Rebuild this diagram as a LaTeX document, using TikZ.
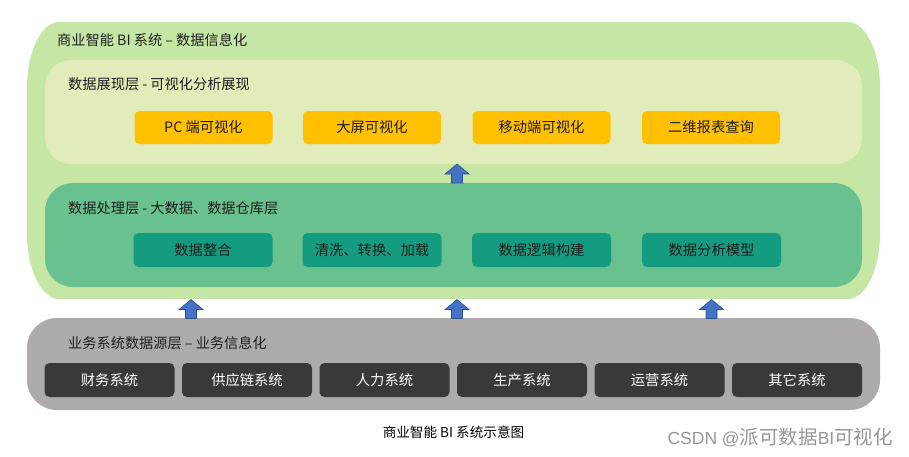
\documentclass[tikz,border=0pt]{standalone}
\usepackage{fontspec}
\setmainfont{Noto Sans CJK SC}
\newfontfamily\wmlatin{Liberation Sans}
\definecolor{outerg}{RGB}{197,230,164}
\definecolor{presg}{RGB}{226,235,186}
\definecolor{procg}{RGB}{104,193,143}
\definecolor{procbox}{RGB}{20,156,128}
\definecolor{ybox}{RGB}{255,192,0}
\definecolor{greyl}{RGB}{174,170,169}
\definecolor{darkb}{RGB}{59,56,56}
\definecolor{arrfill}{RGB}{68,114,196}
\definecolor{arrdraw}{RGB}{47,82,143}
\definecolor{txt}{RGB}{30,30,30}
\definecolor{wm}{RGB}{150,150,150}
\newcommand\blockup[2]{%
  \filldraw[arrfill,draw=arrdraw,line width=0.6pt]
    ({#1-5.5},{#2+19}) -- ({#1+5.5},{#2+19}) -- ({#1+5.5},{#2+10}) -- ({#1+12},{#2+10})
    -- (#1,#2) -- ({#1-12},{#2+10}) -- ({#1-5.5},{#2+10}) -- cycle;}
\tikzset{
  layer/.style={inner sep=0pt, draw=none},
  lbl/.style={anchor=west, inner sep=0pt, font=\fontsize{14.2}{16}\selectfont, text=txt},
  yelbox/.style={fill=ybox, rounded corners=5pt, minimum width=138pt, minimum height=33pt,
    inner sep=0pt, font=\fontsize{14.3}{16}\selectfont, text=txt},
  probox/.style={fill=procbox, rounded corners=5pt, minimum width=139pt, minimum height=34pt,
    inner sep=0pt, font=\fontsize{14.3}{16}\selectfont, text=txt},
  srcbox/.style={fill=darkb, rounded corners=5pt, minimum width=130pt, minimum height=34pt,
    inner sep=0pt, font=\fontsize{14.3}{16}\selectfont, text=white},
}
\begin{document}
\begin{tikzpicture}[x=1pt,y=-1pt]
\useasboundingbox (0,0) rectangle (909,456);
% outer box with elliptical corners
\def\xa{27}\def\ya{22}\def\xb{880}\def\yb{299}\def\rx{32}\def\ry{66}\def\k{0.5523}
\fill[outerg] ({\xa+\rx},\ya) -- ({\xb-\rx},\ya)
  .. controls ({\xb-\rx+\k*\rx},\ya) and (\xb,{\ya+\ry-\k*\ry}) .. (\xb,{\ya+\ry})
  -- (\xb,{\yb-\ry})
  .. controls (\xb,{\yb-\ry+\k*\ry}) and ({\xb-\rx+\k*\rx},\yb) .. ({\xb-\rx},\yb)
  -- ({\xa+\rx},\yb)
  .. controls ({\xa+\rx-\k*\rx},\yb) and (\xa,{\yb-\ry+\k*\ry}) .. (\xa,{\yb-\ry})
  -- (\xa,{\ya+\ry})
  .. controls (\xa,{\ya+\ry-\k*\ry}) and ({\xa+\rx-\k*\rx},\ya) .. ({\xa+\rx},\ya) -- cycle;
\node[lbl] (title) at (57,40) {商业智能 BI 系统 – 数据信息化};
% presentation layer
\node[layer, fill=presg, rounded corners=26pt, minimum width=817pt, minimum height=104pt] (pres) at (453.5,112) {};
\node[lbl] (preslbl) at (68,84) {数据展现层 - 可视化分析展现};
\node[yelbox] (pc) at (203.5,127.5) {PC 端可视化};
\node[yelbox] (big) at (372,127.5) {大屏可视化};
\node[yelbox] (mob) at (541.5,127.5) {移动端可视化};
\node[yelbox] (qr) at (711,127.5) {二维报表查询};
% processing layer
\node[layer, fill=procg, rounded corners=28pt, minimum width=817pt, minimum height=104pt] (proc) at (453.5,235) {};
\node[lbl] (proclbl) at (68,208) {数据处理层 - 大数据、数据仓库层};
\node[probox] (p1) at (203,250) {数据整合};
\node[probox] (p2) at (372,250) {清洗、转换、加载};
\node[probox] (p3) at (541.5,250) {数据逻辑构建};
\node[probox] (p4) at (711.5,250) {数据分析模型};
% source layer
\node[layer, fill=greyl, rounded corners=30pt, minimum width=853pt, minimum height=92pt] (src) at (453.5,364) {};
\node[lbl] (srclbl) at (68,343) {业务系统数据源层 – 业务信息化};
\node[srcbox] (s1) at (109.5,380) {财务系统};
\node[srcbox] (s2) at (247,380) {供应链系统};
\node[srcbox] (s3) at (384.5,380) {人力系统};
\node[srcbox] (s4) at (522,380) {生产系统};
\node[srcbox] (s5) at (659.5,380) {运营系统};
\node[srcbox] (s6) at (797,380) {其它系统};
% arrows
\blockup{457}{164}
\blockup{191}{299.5}
\blockup{457}{299.5}
\blockup{711.5}{299.5}
% captions
\node[inner sep=0pt, font=\fontsize{13.6}{15}\selectfont, text=black] (cap) at (453.5,432) {商业智能 BI 系统示意图};
\node[anchor=east, inner sep=0pt, font=\fontsize{19.5}{21}\selectfont, text=wm] (wmark) at (893,437) {{\wmlatin\fontsize{17.5}{21}\selectfont CSDN @}派可数据{\wmlatin\fontsize{17.5}{21}\selectfont BI}可视化};
\end{tikzpicture}
\end{document}
